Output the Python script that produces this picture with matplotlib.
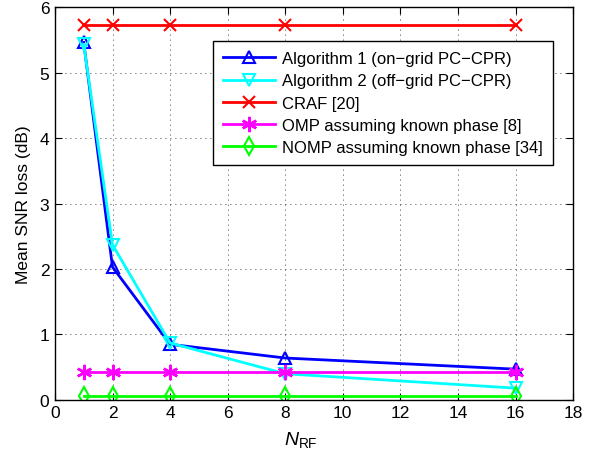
import matplotlib
matplotlib.use("Agg")
import matplotlib.pyplot as plt

plt.rcParams['font.family'] = ['Liberation Sans', 'DejaVu Sans']
plt.rcParams['mathtext.fontset'] = 'custom'
plt.rcParams['mathtext.rm'] = 'Liberation Sans'
plt.rcParams['mathtext.it'] = 'Liberation Sans:italic'

n_rf = [1, 2, 4, 8, 16]
alg1 = [5.46, 2.03, 0.85, 0.64, 0.47]
alg2 = [5.43, 2.37, 0.87, 0.40, 0.18]
craf = [5.72, 5.72, 5.72, 5.72, 5.72]
omp = [0.43, 0.43, 0.43, 0.43, 0.43]
nomp = [0.06, 0.06, 0.06, 0.06, 0.06]
labels = ["Algorithm 1 (on\u2212grid PC\u2212CPR)",
          "Algorithm 2 (off\u2212grid PC\u2212CPR)",
          "CRAF [20]",
          "OMP assuming known phase [8]",
          "NOMP assuming known phase [34]"]
xticks = [0, 2, 4, 6, 8, 10, 12, 14, 16, 18]
yticks = [0, 1, 2, 3, 4, 5, 6]

fig = plt.figure(figsize=(5.97, 4.52), dpi=100)
ax = fig.add_axes([0.092, 0.113, 0.868, 0.869])

kw = dict(linewidth=2, markersize=9, markerfacecolor='none', markeredgewidth=1.5)
ax.plot(n_rf, alg1, color='#0000ff', marker='^', label=labels[0], **kw)
ax.plot(n_rf, alg2, color='#00ffff', marker='v', label=labels[1], **kw)
ax.plot(n_rf, craf, color='#ff0000', marker='x', label=labels[2], **kw)
ax.plot(n_rf, omp, color='#ff00ff', marker=(6, 2, 0), label=labels[3],
        linewidth=2, markersize=11, markeredgewidth=1.8)
ax.plot(n_rf, nomp, color='#00ff00', marker='d', label=labels[4], **kw)

ax.set_xlim(0, 18)
ax.set_ylim(0, 6)
ax.set_xticks(xticks)
ax.set_yticks(yticks)
ax.tick_params(direction='in', top=True, right=True, labelsize=12.5, length=5, pad=4)
ax.grid(True, linestyle=(0, (1, 5)), color='black', linewidth=0.6)
for s in ax.spines.values():
    s.set_linewidth(1.0)
ax.set_xlabel(r"$N_{\mathrm{RF}}$", fontsize=14, labelpad=5)
ax.xaxis.set_label_coords(0.475, -0.075)
ax.set_ylabel("Mean SNR loss (dB)", fontsize=12.5, labelpad=6)

leg = ax.legend(loc='upper right', bbox_to_anchor=(0.961, 0.913), borderaxespad=0,
                fontsize=12, fancybox=False, edgecolor='black', framealpha=1,
                handlelength=3.1, handletextpad=0.45, borderpad=0.6,
                labelspacing=0.43)
leg.get_frame().set_linewidth(1.0)

fig.savefig("out.png", dpi=100)
